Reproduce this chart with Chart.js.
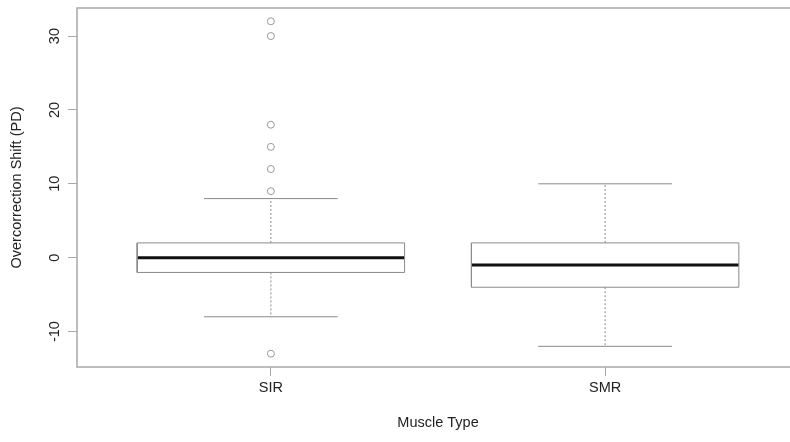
<!DOCTYPE html>
<html>
<head>
<meta charset="utf-8">
<script src="https://cdn.jsdelivr.net/npm/chart.js@4.4.1/dist/chart.umd.min.js"></script>
<style>
  html, body { margin: 0; padding: 0; background: #fff; overflow: hidden; width: 790px; height: 442px; }
  #wrap { width: 810px; height: 442px; }
  canvas { display: block; }
</style>
</head>
<body>
<div id="wrap"><canvas id="c" width="810" height="442"></canvas></div>
<script>
// ---- data ----
const categories = ['SIR', 'SMR'];
const positions = [1, 2];
const lowerWhisker = [-8, -12];
const q1 = [-2, -4];
const median = [0, -1];
const q3 = [2, 2];
const upperWhisker = [8, 10];
const outliersSIR = [32, 30, 18, 15, 12, 9, -13];
const outliersSMR = [];
const yTicks = [-10, 0, 10, 20, 30];
const yTitle = 'Overcorrection Shift (PD)';
const xTitle = 'Muscle Type';

// ---- styles ----
const halfBox = 0.4, halfCap = 0.2;
const lineGray = '#8a8a8a';
const frameGray = '#a8a8a8';
const FONT = 'Liberation Sans, Arial, Helvetica, sans-serif';
const FSIZE = 14.5;

const datasets = [];
const outlierSets = [outliersSIR, outliersSMR];
positions.forEach((p, i) => {
  const base = { type: 'line', pointRadius: 0, fill: false, tension: 0, borderWidth: 1, borderColor: lineGray };
  // box
  datasets.push(Object.assign({}, base, {
    data: [
      { x: p - halfBox, y: q1[i] }, { x: p + halfBox, y: q1[i] },
      { x: p + halfBox, y: q3[i] }, { x: p - halfBox, y: q3[i] },
      { x: p - halfBox, y: q1[i] }
    ]
  }));
  // upper whisker (dashed)
  datasets.push(Object.assign({}, base, {
    borderDash: [2, 2],
    data: [{ x: p, y: q3[i] }, { x: p, y: upperWhisker[i] }]
  }));
  // lower whisker (dashed)
  datasets.push(Object.assign({}, base, {
    borderDash: [2, 2],
    data: [{ x: p, y: q1[i] }, { x: p, y: lowerWhisker[i] }]
  }));
  // caps
  datasets.push(Object.assign({}, base, {
    data: [{ x: p - halfCap, y: upperWhisker[i] }, { x: p + halfCap, y: upperWhisker[i] }]
  }));
  datasets.push(Object.assign({}, base, {
    data: [{ x: p - halfCap, y: lowerWhisker[i] }, { x: p + halfCap, y: lowerWhisker[i] }]
  }));
  // median
  datasets.push(Object.assign({}, base, {
    borderColor: '#111111', borderWidth: 3,
    data: [{ x: p - halfBox, y: median[i] }, { x: p + halfBox, y: median[i] }]
  }));
  // outliers
  datasets.push({
    type: 'scatter',
    data: outlierSets[i].map(v => ({ x: p, y: v })),
    pointStyle: 'circle', pointRadius: 3.5, pointBorderWidth: 1,
    pointBorderColor: '#999999', pointBackgroundColor: 'rgba(0,0,0,0)',
    borderColor: '#999999', backgroundColor: 'rgba(0,0,0,0)'
  });
});

const framePlugin = {
  id: 'frame',
  afterDatasetsDraw(chart) {
    const { ctx, chartArea: a } = chart;
    ctx.save();
    ctx.strokeStyle = frameGray;
    ctx.lineWidth = 1.5;
    ctx.strokeRect(a.left, a.top, a.right - a.left, a.bottom - a.top);
    ctx.restore();
  },
  afterDraw(chart) {
    // rotated y tick labels (R style, parallel to axis)
    const { ctx } = chart;
    const ys = chart.scales.y;
    ctx.save();
    ctx.fillStyle = '#222';
    ctx.font = FSIZE + 'px ' + FONT;
    ctx.textAlign = 'center';
    ctx.textBaseline = 'middle';
    yTicks.forEach(v => {
      const py = ys.getPixelForValue(v);
      ctx.save();
      ctx.translate(ys.left + 55, py);
      ctx.rotate(-Math.PI / 2);
      ctx.fillText(String(v), 0, 0);
      ctx.restore();
    });
    ctx.restore();
  }
};

new Chart(document.getElementById('c'), {
  type: 'scatter',
  data: { datasets },
  options: {
    responsive: false,
    animation: false,
    devicePixelRatio: 1,
    layout: { padding: { top: 8, right: 11, left: 0, bottom: 0 } },
    plugins: { legend: { display: false }, tooltip: { enabled: false } },
    scales: {
      x: {
        type: 'linear',
        min: 0.42, max: 2.58,
        afterBuildTicks(s) { s.ticks = positions.map(v => ({ value: v })); },
        afterFit(s) { s.height = 75; },
        border: { display: false },
        grid: { display: true, drawOnChartArea: false, drawTicks: true, tickLength: 9, color: frameGray, lineWidth: 1 },
        ticks: {
          color: '#222', font: { family: FONT, size: FSIZE }, padding: 3, maxRotation: 0, minRotation: 0,
          callback(v) { const i = positions.indexOf(v); return i >= 0 ? categories[i] : ''; }
        },
        title: { display: true, text: xTitle, color: '#222', font: { family: FONT, size: FSIZE }, padding: { top: 0, bottom: 10 } }
      },
      y: {
        type: 'linear',
        min: -14.8, max: 33.8,
        afterBuildTicks(s) { s.ticks = yTicks.map(v => ({ value: v })); },
        afterFit(s) { s.width = 77; },
        border: { display: false },
        grid: { display: true, drawOnChartArea: false, drawTicks: true, tickLength: 9, color: frameGray, lineWidth: 1 },
        ticks: { display: false },
        title: { display: true, text: yTitle, color: '#222', font: { family: FONT, size: FSIZE }, padding: { top: 8, bottom: 0 } }
      }
    }
  },
  plugins: [framePlugin]
});
</script>
</body>
</html>
